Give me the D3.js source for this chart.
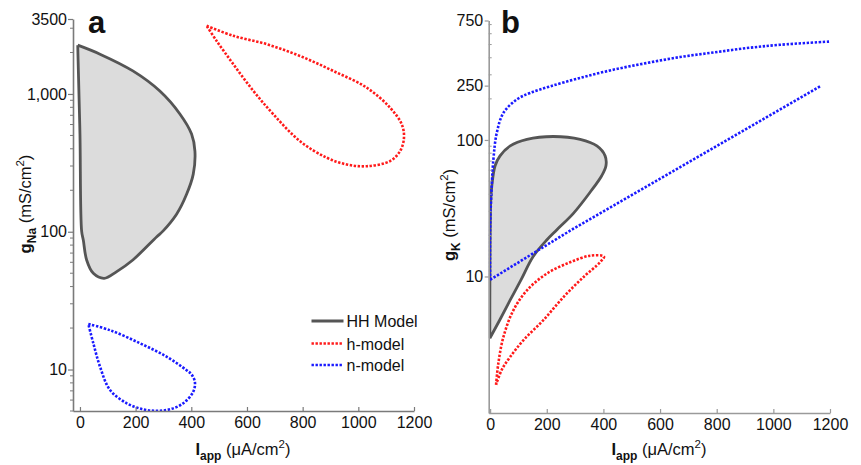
<!DOCTYPE html>
<html>
<head>
<meta charset="utf-8">
<script src="https://cdn.jsdelivr.net/npm/d3@7"></script>
<style>
  html, body { margin: 0; padding: 0; background: #fff; }
  svg { display: block; }
  text { font-family: "Liberation Sans", Arial, sans-serif; fill: #111; }
</style>
</head>
<body>
<svg id="chart" width="861" height="465"></svg>
<script>
// ---- data: (I_app in uA/cm^2, conductance in mS/cm^2) ----
const xTickValues = [0, 200, 400, 600, 800, 1000, 1200];
const xTickLabels = ["0", "200", "400", "600", "800", "1000", "1200"];

const yTickValuesA = [10, 100, 1000, 3500];
const yTickLabelsA = ["10", "100", "1,000", "3500"];
const yTickValuesB = [10, 100, 250, 750];
const yTickLabelsB = ["10", "100", "250", "750"];

const legendLabels = ["HH Model", "h-model", "n-model"];

// panel a: g_Na vs I_app
const hhA = [
  [-8, 2260], [72, 1945], [190, 1470], [287, 1050], [359, 716], [401, 512],
  [413, 385], [407, 262], [383, 187], [347, 134], [298, 101], [276, 92],
  [190, 62.4], [132, 51.4], [87, 45.9], [48, 49.9], [24, 62.4], [12, 87],
  [6, 101], [0, 512], [-6, 1553], [-8, 2260]
];
const hModelA = [
  [455, 3123], [551, 2642], [671, 2298], [790, 1888], [910, 1469], [1030, 1111],
  [1114, 795], [1156, 602], [1164, 481], [1150, 385], [1114, 326], [1030, 299],
  [958, 308], [886, 345], [790, 455], [695, 711], [623, 1052], [551, 1644],
  [491, 2427], [455, 3123]
];
const nModelA = [
  [30, 21.4], [108, 19.3], [216, 15.5], [311, 12.4], [383, 9.89], [401, 9.2],
  [413, 8.1], [407, 6.9], [371, 5.69], [323, 5.14], [276, 5.02], [227, 5.14],
  [168, 5.69], [108, 7.1], [72, 10.5], [48, 15.5], [30, 21.4]
];

// panel b: g_K vs I_app
const hhB = [
  [-1, 3.53], [-1, 5.06], [-0.5, 12.4], [2.5, 37], [6, 46.2], [17.6, 64.7],
  [35, 76.5], [71, 90.4], [130, 101], [223, 106], [318, 101], [377, 90.4],
  [406, 76.5], [409, 64.7], [394, 54.7], [353, 41.4], [294, 29.0], [235, 21.9],
  [200, 18.5], [152, 14.0], [109, 9.43], [71, 6.73], [34, 4.8], [-1, 3.53]
];
const hModelB = [
  [21, 1.61], [29, 2.31], [47, 3.61], [82, 5.65], [130, 7.91], [200, 10.5],
  [282, 12.7], [353, 14.2], [402, 14.0], [388, 12.7], [329, 9.88], [259, 7.07],
  [188, 4.79], [118, 3.42], [71, 2.58], [41, 2.07], [21, 1.61]
];
const nModelBUpper = [
  [0, 9.46], [0, 22.4], [3.5, 37], [11.6, 72.2], [23.6, 113], [47, 158],
  [94, 198], [141, 221], [212, 247], [318, 285], [435, 327], [553, 366],
  [671, 405], [788, 437], [906, 471], [1024, 498], [1200, 526]
];
const nModelBLower = [
  [0, 9.46], [294, 22.4], [1165, 247]
];

// ---- drawing ----
const svg = d3.select("#chart");
const FONT = 16;
const colors = { hh: "#555555", hhFill: "#dcdcdc", h: "#ff1a1a", n: "#1a1aff" };

function drawPanel(cfg) {
  const g = svg.append("g");
  const x = d3.scaleLinear().domain(cfg.xDomain).range(cfg.xRange);
  const y = d3.scaleLog().domain(cfg.yDomain).range(cfg.yRange);
  const left = cfg.xRange[0], right = cfg.xRange[1];
  const top = cfg.yRange[1], bottom = cfg.yRange[0];

  const clipId = "clip-" + cfg.id;
  svg.append("defs").append("clipPath").attr("id", clipId)
    .append("rect").attr("x", left).attr("y", top - 2)
    .attr("width", right - left + 2).attr("height", bottom - top + 2);

  const plot = g.append("g").attr("clip-path", `url(#${clipId})`);
  const line = d3.line().x(d => x(d[0])).y(d => y(d[1])).curve(d3.curveCatmullRom.alpha(0.5));
  const straight = d3.line().x(d => x(d[0])).y(d => y(d[1]));

  plot.append("path").attr("d", line(cfg.hh))
    .attr("fill", colors.hhFill).attr("stroke", colors.hh)
    .attr("stroke-width", 2.8).attr("stroke-linejoin", "round");

  cfg.dotted.forEach(s => {
    plot.append("path").attr("d", (s.straight ? straight : line)(s.data))
      .attr("fill", "none").attr("stroke", s.color)
      .attr("stroke-width", 2.6).attr("stroke-dasharray", "2.4,1.6");
  });

  // x axis: ticks point into the plot
  const xAxis = g.append("g").attr("transform", `translate(0,${bottom})`)
    .call(d3.axisBottom(x).tickValues(xTickValues)
      .tickFormat((d, i) => xTickLabels[i])
      .tickSizeInner(-4).tickSizeOuter(0).tickPadding(6));
  // y axis: major ticks outward
  const yAxis = g.append("g").attr("transform", `translate(${left},0)`)
    .call(d3.axisLeft(y).tickValues(cfg.yTicks)
      .tickFormat((d, i) => cfg.yLabels[i])
      .tickSizeInner(cfg.yTickLen).tickSizeOuter(0).tickPadding(cfg.yPad));

  [xAxis, yAxis].forEach(a => {
    a.selectAll("text").attr("font-size", FONT).attr("fill", "#111")
      .attr("font-family", "Liberation Sans, Arial, sans-serif");
    a.select(".domain").attr("stroke", cfg.axisColor).attr("stroke-width", 1.6);
    a.selectAll(".tick line").attr("stroke", cfg.axisColor).attr("stroke-width", 1.2);
  });

  // minor log ticks
  const minors = y.ticks().filter(v => !cfg.yTicks.includes(v) && v >= cfg.minorFrom);
  g.append("g").selectAll("line").data(minors).join("line")
    .attr("x1", left).attr("x2", left + cfg.minorDir * 3)
    .attr("y1", d => y(d)).attr("y2", d => y(d))
    .attr("stroke", cfg.axisColor).attr("stroke-width", 1);

  // panel letter
  svg.append("text").attr("x", cfg.letterX).attr("y", 33)
    .attr("font-size", 31).attr("font-weight", "bold").text(cfg.letter);

  // x title
  const xt = svg.append("text").attr("x", cfg.xTitleX).attr("y", 454.5)
    .attr("text-anchor", "middle").attr("font-size", 16.5);
  xt.append("tspan").attr("font-weight", "bold").text("I");
  xt.append("tspan").attr("font-weight", "bold").attr("font-size", 12).attr("dy", 5).text("app");
  xt.append("tspan").attr("dy", -5).text(" (\u03bcA/cm");
  xt.append("tspan").attr("font-size", 11.5).attr("dy", -7).text("2");
  xt.append("tspan").attr("dy", 7).text(")");

  // y title
  const yt = svg.append("text")
    .attr("transform", `translate(${cfg.yTitleX},${cfg.yTitleY}) rotate(-90)`)
    .attr("text-anchor", "middle").attr("font-size", 16.5);
  yt.append("tspan").attr("font-weight", "bold").text("g");
  yt.append("tspan").attr("font-weight", "bold").attr("font-size", 12).attr("dy", 5).text(cfg.ySub);
  yt.append("tspan").attr("dy", -5).text(" (mS/cm");
  yt.append("tspan").attr("font-size", 11.5).attr("dy", -7).text("2");
  yt.append("tspan").attr("dy", 7).text(")");
}

drawPanel({
  id: "a", letter: "a", letterX: 88,
  xDomain: [-25, 1200], xRange: [73, 414],
  yDomain: [5, 3500], yRange: [411, 19],
  yTicks: yTickValuesA, yLabels: yTickLabelsA, yTickLen: 5, yPad: 1,
  minorDir: -1, minorFrom: 0, axisColor: "#7a7a7a",
  hh: hhA,
  dotted: [{ data: hModelA, color: colors.h }, { data: nModelA, color: colors.n }],
  xTitleX: 243, yTitleX: 31, yTitleY: 204, ySub: "Na"
});

drawPanel({
  id: "b", letter: "b", letterX: 501,
  xDomain: [-5, 1200], xRange: [488.7, 830],
  yDomain: [1, 750], yRange: [413, 20.5],
  yTicks: yTickValuesB, yLabels: yTickLabelsB, yTickLen: 4, yPad: 1.5,
  minorDir: 1, minorFrom: 11, axisColor: "#9a9a9a",
  hh: hhB,
  dotted: [
    { data: hModelB, color: colors.h },
    { data: nModelBUpper, color: colors.n },
    { data: nModelBLower, color: colors.n, straight: true }
  ],
  xTitleX: 659, yTitleX: 455, yTitleY: 215, ySub: "K"
});

// legend in panel a
const legend = svg.append("g");
const legendStyles = [
  { color: colors.hh, dash: null, width: 2.8 },
  { color: colors.h, dash: "2.4,1.6", width: 2.6 },
  { color: colors.n, dash: "2.4,1.6", width: 2.6 }
];
const legendY = [321, 343.5, 365];
legendLabels.forEach((label, i) => {
  legend.append("line").attr("x1", 311.5).attr("x2", 343.5)
    .attr("y1", legendY[i]).attr("y2", legendY[i])
    .attr("stroke", legendStyles[i].color).attr("stroke-width", legendStyles[i].width)
    .attr("stroke-dasharray", legendStyles[i].dash);
  legend.append("text").attr("x", 346.5).attr("y", legendY[i] + 6)
    .attr("font-size", 16).text(label);
});
</script>
</body>
</html>
